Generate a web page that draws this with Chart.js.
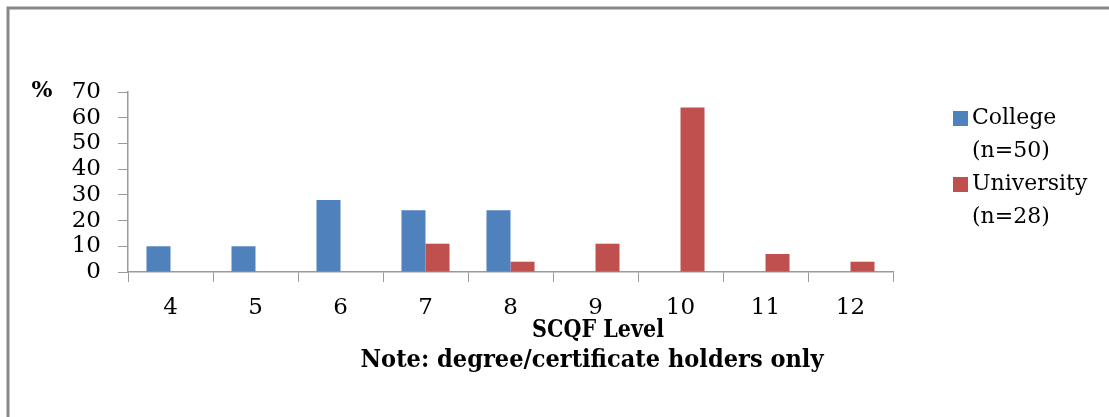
<!DOCTYPE html>
<html>
<head>
<meta charset="utf-8">
<script src="https://cdn.jsdelivr.net/npm/chart.js@4"></script>
<style>
  html,body{margin:0;padding:0;background:#fff;}
  #wrap{width:1109px;height:417px;position:relative;}
</style>
</head>
<body>
<div id="wrap"><canvas id="chart"></canvas></div>
<script>
// SCQF level chart, college vs university

const levels = ['4','5','6','7','8','9','10','11','12'];
const college = [10, 10, 28, 24, 24, null, null, null, null];
const university = [null, null, null, 11, 4, 11, 64, 7, 4];
const seriesNames = ['College', 'University'];
const seriesNotes = ['(n=50)', '(n=28)'];
const seriesColors = ['#4F81BD', '#C0504D'];
const yTicks = [0, 10, 20, 30, 40, 50, 60, 70];
const xTitle = ['SCQF Level', 'Note: degree/certificate holders only'];

const FONT = "'DejaVu Serif', serif";
const AXIS = '#9a9a9a';

// frame, % sign, x title (sits right of centre in the original) and the legend
const decor = {
  id: 'decor',
  beforeDraw(chart){
    const c = chart.ctx;
    c.save();
    c.fillStyle = '#fff';
    c.fillRect(0, 0, chart.width, chart.height);
    c.strokeStyle = '#888';
    c.lineWidth = 3;
    c.beginPath();
    c.moveTo(8, chart.height);
    c.lineTo(8, 8);
    c.lineTo(chart.width, 8);
    c.stroke();
    c.restore();
  },
  afterDraw(chart){
    const c = chart.ctx;
    c.save();
    c.fillStyle = '#000';
    c.font = 'bold 22px ' + FONT;
    c.textAlign = 'center';
    c.textBaseline = 'middle';
    c.fillText('%', 42, 91);

    // axis title, squeezed to the width of the original
    c.font = 'bold 24px ' + FONT;
    c.fillText(xTitle[0], 598, 331, 132);
    c.fillText(xTitle[1], 592, 361, 463);

    c.font = '22px ' + FONT;
    c.textAlign = 'left';
    chart.data.datasets.forEach((ds, i)=>{
      const y = 118 + i * 66;
      c.fillStyle = ds.backgroundColor;
      c.fillRect(953, y - 7, 15, 15);
      c.fillStyle = '#000';
      c.fillText(seriesNames[i], 972, y);
      c.fillText(seriesNotes[i], 972, y + 33);
    });
    c.restore();
  }
};

new Chart(document.getElementById('chart'), {
  type: 'bar',
  data: {
    labels: levels,
    datasets: [
      {label: seriesNames[0], data: college, backgroundColor: seriesColors[0]},
      {label: seriesNames[1], data: university, backgroundColor: seriesColors[1]}
    ]
  },
  options: {
    responsive: true,
    maintainAspectRatio: false,
    animation: false,
    layout: {padding: {left: 0, top: 92, right: 216, bottom: 0}},
    plugins: {legend: {display: false}, tooltip: {enabled: false}},
    datasets: {bar: {categoryPercentage: 0.565, barPercentage: 1.0}},
    scales: {
      x: {
        grid: {display: true, drawOnChartArea: false, drawTicks: true, tickLength: 10, color: AXIS, offset: true},
        border: {display: true, color: AXIS, width: 1.5},
        ticks: {color: '#000', font: {family: FONT, size: 23}, padding: 12, maxRotation: 0},
        afterFit(scale){ scale.height = 145; }
      },
      y: {
        min: 0, max: 70,
        afterBuildTicks(scale){ scale.ticks = yTicks.map(v=>({value: v})); },
        grid: {display: true, drawOnChartArea: false, drawTicks: true, tickLength: 10, color: AXIS},
        border: {display: true, color: AXIS, width: 1.5},
        ticks: {color: '#000', font: {family: FONT, size: 23}, padding: 17, autoSkip: false},
        afterFit(scale){ scale.width = 128; }
      }
    }
  },
  plugins: [decor]
});
</script>
</body>
</html>
